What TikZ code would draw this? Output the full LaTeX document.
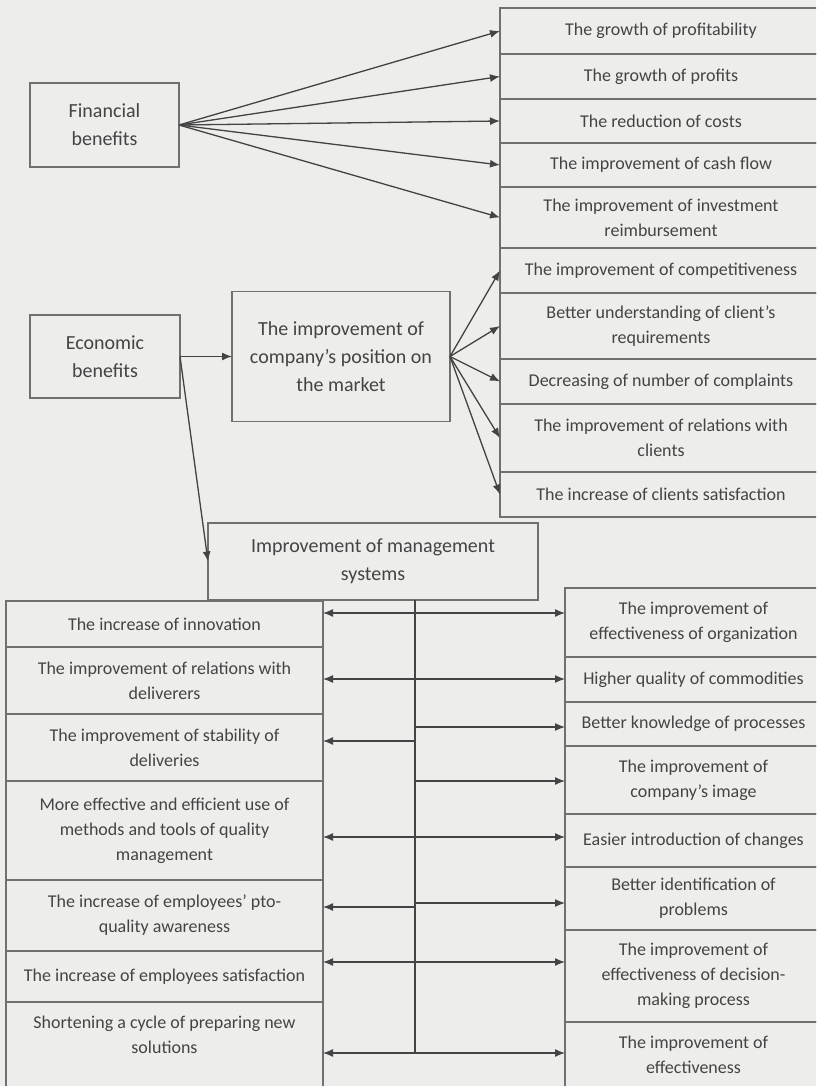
\documentclass[tikz,border=0pt]{standalone}
\usepackage{fontspec}
\setmainfont{Carlito}
\usetikzlibrary{positioning,arrows.meta}
\definecolor{paper}{RGB}{237,237,235}
\definecolor{ink}{RGB}{68,68,68}
\definecolor{frame}{RGB}{112,112,112}
\tikzset{
	benefits/.style={>={Latex[length=10pt,width=8pt]},x=1pt,y=-1pt},
	headbox/.style={rectangle,draw=frame,line width=1.2pt,align=center,
		font=\fontsize{20}{28}\selectfont,text=ink,inner sep=0pt,outer sep=0pt},
	cell/.style={rectangle,draw=frame,line width=1.2pt,align=center,
		font=\fontsize{18}{25}\selectfont,text=ink,inner sep=0pt,outer sep=0pt},
	opencell/.style={cell,draw=none},
	topcol/.style={cell,minimum width=322pt},
	leftcol/.style={cell,minimum width=317pt},
	rightcol/.style={cell,minimum width=257pt},
	link/.style={->,draw=ink,fill=ink,line width=1.3pt},
	twoway/.style={<->,draw=ink,fill=ink,line width=1.3pt}
}

\begin{document}
\begin{tikzpicture}[benefits]
	\useasboundingbox (0,0) rectangle (816,1086);
	\clip (0,0) rectangle (816,1086);
	\fill[paper] (0,0) rectangle (816,1086);
	
	% left side boxes
	\node[headbox,minimum width=149pt,minimum height=84pt] (fin) at (104.5,125) {Financial\\benefits};
	\node[headbox,minimum width=150pt,minimum height=83pt] (eco) at (105,356.5) {Economic\\benefits};
	\node[headbox,minimum width=218pt,minimum height=130pt,right=52pt of eco] (pos)
		{The improvement of\\company’s position on\\the market};
	\node[headbox,minimum width=330pt,minimum height=77pt] (mgmt) at (373,561.5)
		{Improvement of management\\systems};
	
	% upper right column
	\node[topcol,minimum height=46pt,anchor=north west] (p1) at (500,8) {The growth of profitability};
	\node[topcol,minimum height=45pt,below=0pt of p1] (p2) {The growth of profits};
	\node[topcol,minimum height=44pt,below=0pt of p2] (p3) {The reduction of costs};
	\node[topcol,minimum height=44pt,below=0pt of p3] (p4) {The improvement of cash flow};
	\node[topcol,minimum height=61pt,below=0pt of p4] (p5) {The improvement of investment\\reimbursement};
	\node[topcol,minimum height=45pt,below=0pt of p5] (p6) {The improvement of competitiveness};
	\node[topcol,minimum height=66pt,below=0pt of p6] (p7) {Better understanding of client’s\\requirements};
	\node[topcol,minimum height=45pt,below=0pt of p7] (p8) {Decreasing of number of complaints};
	\node[topcol,minimum height=68pt,below=0pt of p8] (p9) {The improvement of relations with\\clients};
	\node[topcol,minimum height=45pt,below=0pt of p9] (p10) {The increase of clients satisfaction};
	
	% lower left column
	\node[leftcol,minimum height=46pt,anchor=north west] (s1) at (6,601) {The increase of innovation};
	\node[leftcol,minimum height=67pt,below=0pt of s1] (s2) {The improvement of relations with\\deliverers};
	\node[leftcol,minimum height=67pt,below=0pt of s2] (s3) {The improvement of stability of\\deliveries};
	\node[leftcol,minimum height=99pt,below=0pt of s3] (s4)
		{More effective and efficient use of\\methods and tools of quality\\management};
	\node[leftcol,minimum height=71pt,below=0pt of s4] (s5) {The increase of employees’ pto-\\quality awareness};
	\node[leftcol,minimum height=51pt,below=0pt of s5] (s6) {The increase of employees satisfaction};
	\node[leftcol,opencell,minimum height=66pt,below=0pt of s6] (s7) {Shortening a cycle of preparing new\\solutions};
	\draw[frame,line width=1.2pt] (s7.north west) -- ++(0,100);
	\draw[frame,line width=1.2pt] (s7.north east) -- ++(0,100);
	
	% lower right column
	\node[rightcol,minimum height=69pt,anchor=north west] (q1) at (565,588) {The improvement of\\effectiveness of organization};
	\node[rightcol,minimum height=45pt,below=0pt of q1] (q2) {Higher quality of commodities};
	\node[rightcol,minimum height=44pt,below=0pt of q2] (q3) {Better knowledge of processes};
	\node[rightcol,minimum height=68pt,below=0pt of q3] (q4) {The improvement of\\company’s image};
	\node[rightcol,minimum height=53pt,below=0pt of q4] (q5) {Easier introduction of changes};
	\node[rightcol,minimum height=63pt,below=0pt of q5] (q6) {Better identification of\\problems};
	\node[rightcol,minimum height=92pt,below=0pt of q6] (q7)
		{The improvement of\\effectiveness of decision-\\making process};
	\node[rightcol,minimum height=66pt,below=0pt of q7] (q8) {The improvement of\\effectiveness};
	
	% financial arrows
	\foreach \n in {p1,p2,p3,p4,p5}
		\draw[link] (fin.east) -- (\n.west);
	% market arrows
	\foreach \n in {p6,p7,p8,p9,p10}
		\draw[link] (pos.east) -- (\n.west);
	\draw[link] (eco.east) -- (pos.west);
	\draw[link] (eco.east) -- (mgmt.west);
	
	% trunk below management box
	\coordinate (t1) at (415,613);
	\coordinate (t2) at (415,679);
	\coordinate (t3) at (415,727);
	\coordinate (t4) at (415,741);
	\coordinate (t5) at (415,781);
	\coordinate (t6) at (415,837);
	\coordinate (t7) at (415,903);
	\coordinate (t8) at (415,907);
	\coordinate (t9) at (415,962);
	\coordinate (t10) at (415,1053);
	\draw[ink,line width=1.3pt] (mgmt.south -| t1) -- (t10);
	
	\foreach \t in {t1,t2,t6,t9,t10}
		\draw[twoway] (\t -| s1.east) -- (\t -| q1.west);
	\foreach \t in {t3,t5,t7}
		\draw[link] (\t) -- (\t -| q1.west);
	\foreach \t in {t4,t8}
		\draw[link] (\t) -- (\t -| s1.east);
	
\end{tikzpicture}
\end{document}
